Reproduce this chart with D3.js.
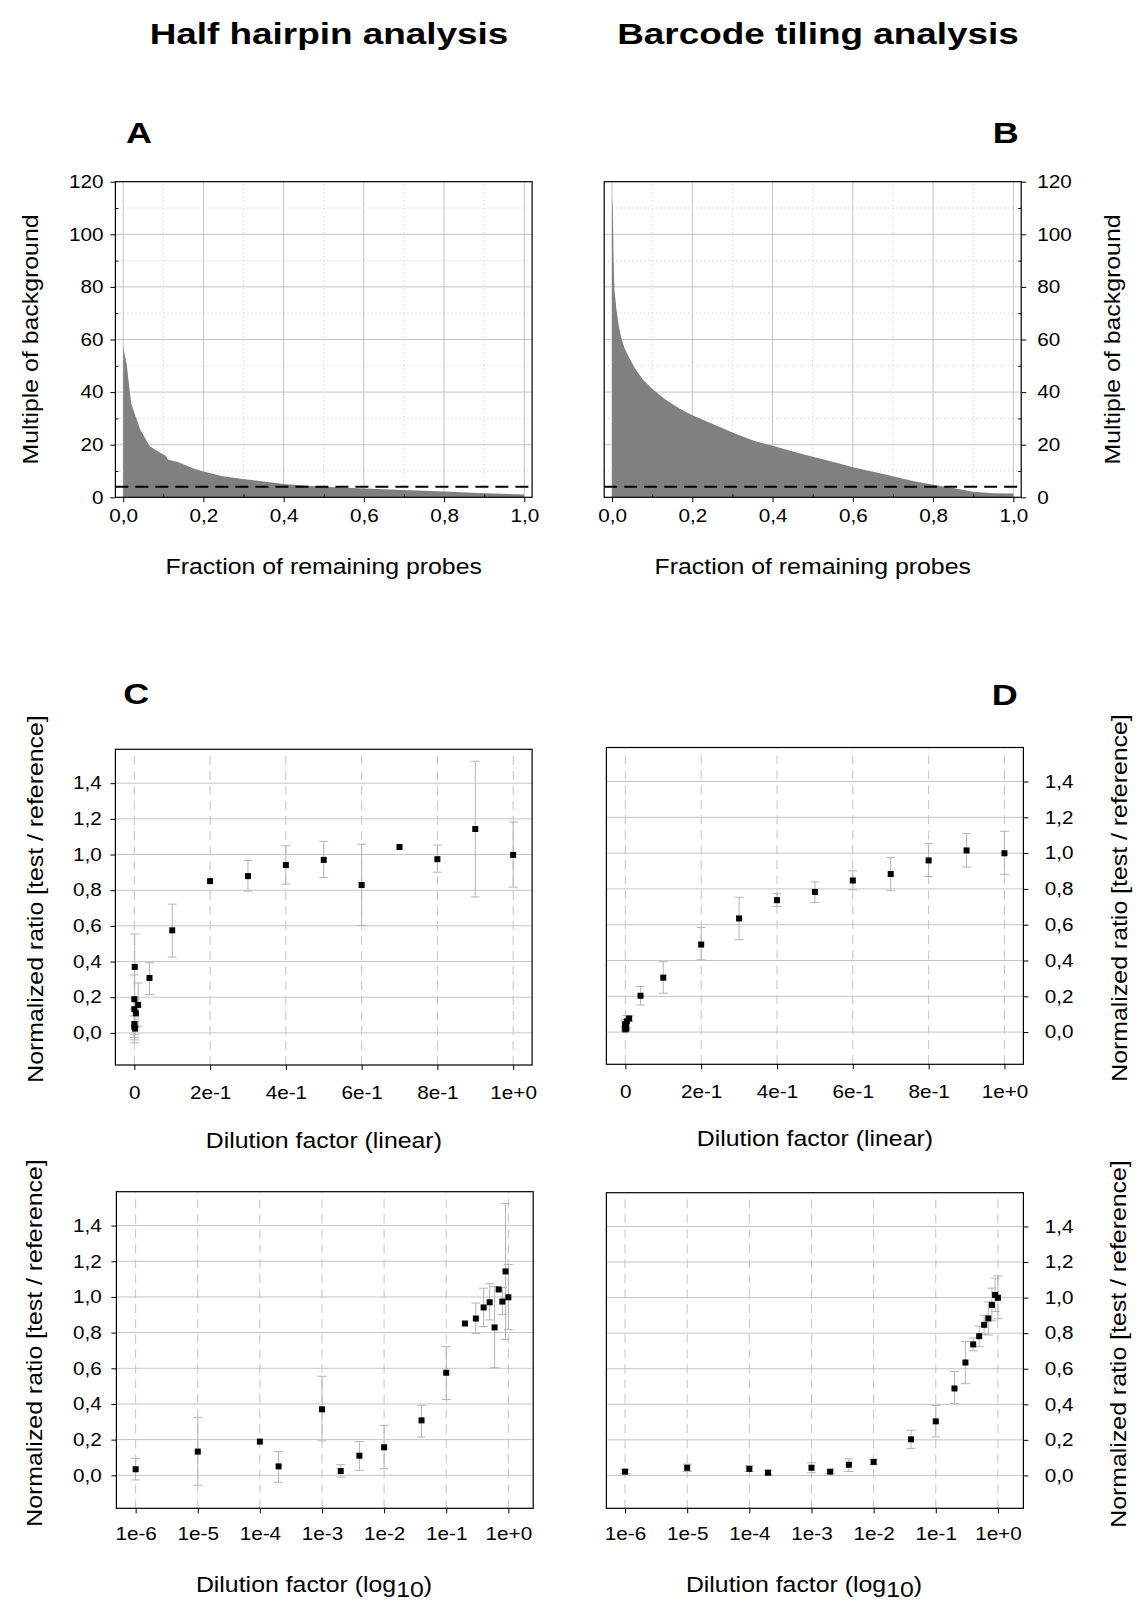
<!DOCTYPE html>
<html><head><meta charset="utf-8">
<script src="https://cdn.jsdelivr.net/npm/d3@7"></script>
<style>
body{margin:0;background:#fff}
svg{display:block}
text{font-family:"Liberation Sans",Arial,sans-serif;fill:#000}
</style>
</head><body>
<svg id="c" width="1147" height="1609"></svg>
<script>
// ---------------- DATA ----------------
const columnTitles = ["Half hairpin analysis", "Barcode tiling analysis"];
const panelLetters = ["A", "B", "C", "D"];

const fractionTicks = [0, 0.2, 0.4, 0.6, 0.8, 1.0];
const fractionTickLabels = ["0,0", "0,2", "0,4", "0,6", "0,8", "1,0"];
const fractionMinorTicks = [0.1, 0.3, 0.5, 0.7, 0.9];
const multipleTicks = [0, 20, 40, 60, 80, 100, 120];
const multipleTickLabels = ["0", "20", "40", "60", "80", "100", "120"];
const multipleMinorTicks = [10, 30, 50, 70, 90, 110];
const thresholdMultiple = 4;

// Panel A: half hairpin, sorted signal curve
const hairpinFraction = [0, 0.0045, 0.009, 0.013, 0.02, 0.031, 0.043, 0.049, 0.062, 0.067, 0.085, 0.107, 0.111, 0.138, 0.174, 0.2, 0.245, 0.298, 0.4, 0.459, 0.5, 0.6, 0.7, 0.8, 0.9, 1.0];
const hairpinMultiple = [57.5, 53.5, 50.3, 44.6, 35.7, 30.7, 25.6, 24.1, 20.5, 19.3, 17.6, 15.7, 14.4, 13.3, 11.0, 9.8, 8.1, 7.0, 5.1, 4.4, 4.05, 3.3, 2.8, 2.2, 1.5, 1.1];

// Panel B: barcode tiling, sorted signal curve
const barcodeFraction = [0, 0.002, 0.004, 0.006, 0.011, 0.017, 0.022, 0.031, 0.045, 0.059, 0.077, 0.1, 0.132, 0.169, 0.2, 0.261, 0.3, 0.353, 0.4, 0.444, 0.5, 0.555, 0.6, 0.656, 0.7, 0.747, 0.8, 0.839, 0.9, 0.95, 1.0];
const barcodeMultiple = [114.3, 109.9, 90.3, 79, 71.4, 65, 61.3, 56.8, 52.4, 48.6, 44.8, 41.3, 37.3, 33.7, 31.2, 27.2, 24.6, 21.5, 19.6, 17.7, 15.4, 13.3, 11.4, 9.5, 8.0, 6.3, 4.8, 3.8, 2.1, 1.5, 1.4];

// Dilution series (panels C, D and log panels)
const dilutions = [1e-6, 1e-5, 1e-4, 2e-4, 1e-3, 2e-3, 4e-3, 1e-2, 4e-2, 1e-1, 2e-1, 3e-1, 4e-1, 5e-1, 6e-1, 7e-1, 8e-1, 9e-1, 1];
const hairpinRatio = [0.034, 0.133, 0.189, 0.050, 0.370, 0.024, 0.110, 0.157, 0.308, 0.575, 0.851, 0.879, 0.941, 0.970, 0.829, 1.042, 0.974, 1.143, 0.998];
const hairpinLow   = [-0.026, -0.056, null, -0.039, 0.193, -0.010, 0.028, 0.037, 0.215, 0.425, null, 0.795, 0.834, 0.871, 0.603, null, 0.901, 0.762, 0.817];
const hairpinHigh  = [0.095, 0.325, null, 0.133, 0.555, 0.060, 0.189, 0.280, 0.393, 0.722, null, 0.966, 1.049, 1.074, 1.058, null, 1.053, 1.523, 1.182];
const barcodeRatio = [0.021, 0.043, 0.037, 0.015, 0.043, 0.021, 0.060, 0.076, 0.203, 0.304, 0.489, 0.635, 0.737, 0.783, 0.847, 0.883, 0.959, 1.015, 0.999];
const barcodeLow   = [0.011, 0.022, 0.022, 0.004, 0.015, 0.011, 0.022, 0.060, 0.151, 0.217, 0.404, 0.516, 0.701, 0.724, 0.795, 0.790, 0.869, 0.922, 0.881];
const barcodeHigh  = [0.034, 0.063, 0.054, 0.030, 0.071, 0.030, 0.093, 0.090, 0.254, 0.393, 0.584, 0.753, 0.773, 0.839, 0.901, 0.975, 1.053, 1.109, 1.122];

const ratioTicks = [0, 0.2, 0.4, 0.6, 0.8, 1.0, 1.2, 1.4];
const ratioTickLabels = ["0,0", "0,2", "0,4", "0,6", "0,8", "1,0", "1,2", "1,4"];
const linearTicks = [0, 0.2, 0.4, 0.6, 0.8, 1.0];
const linearTickLabels = ["0", "2e-1", "4e-1", "6e-1", "8e-1", "1e+0"];
const logTicks = [1e-6, 1e-5, 1e-4, 1e-3, 1e-2, 1e-1, 1];
const logTickLabels = ["1e-6", "1e-5", "1e-4", "1e-3", "1e-2", "1e-1", "1e+0"];

const xLabelFraction = "Fraction of remaining probes";
const yLabelMultiple = "Multiple of background";
const xLabelLinear = "Dilution factor (linear)";
const xLabelLog = ["Dilution factor (log", "10", ")"];
const yLabelRatio = "Normalized ratio [test / reference]";

// ---------------- DRAWING ----------------
const svg = d3.select("#c");
const GRID = "#c4c4c4", ERR = "#b4b4b4";
const TICK_FS = 18, TICK_SX = 1.15, LAB_FS = 22, LAB_SX = 1.13;

function sText(x, y, str, size, sx, o = {}) {
  const t = svg.append("text")
    .attr("transform", `translate(${x},${y})${o.rotate ? " rotate(-90)" : ""} scale(${sx},1)`)
    .attr("font-size", size)
    .attr("text-anchor", o.anchor || "middle");
  if (o.bold) t.attr("font-weight", "bold");
  if (str !== null) t.text(str);
  return t;
}

function styleAxis(g, side) {
  g.select(".domain").remove();
  g.attr("font-size", null).attr("font-family", null);
  g.selectAll("line").attr("stroke", "#000");
  g.selectAll("text").attr("font-size", TICK_FS).attr("fill", "#000").each(function () {
    const t = d3.select(this);
    if (side === "left" || side === "right") {
      const x = +t.attr("x");
      t.attr("x", x / TICK_SX);
    }
    t.attr("transform", `scale(${TICK_SX},1)`);
  });
}

function frame(x, y) {
  const [x0, x1] = x.range(), [y0, y1] = y.range();
  svg.append("rect").attr("x", x0).attr("y", y1).attr("width", x1 - x0).attr("height", y0 - y1)
    .attr("fill", "none").attr("stroke", "#000").attr("stroke-width", 1.2);
}

// ---- Top panels (A, B)
function fractionPanel(o) {
  const x = d3.scaleLinear().domain([-0.0195, 1.0195]).range(o.xr);
  const y = d3.scaleLinear().domain([0, 120]).range([497.3, 181.7]);
  const g = svg.append("g");
  // minor dotted grid
  g.selectAll(".mx").data(fractionMinorTicks).join("line")
    .attr("x1", d => x(d)).attr("x2", d => x(d)).attr("y1", y(0)).attr("y2", y(120))
    .attr("stroke", GRID).attr("stroke-dasharray", "1,3");
  g.selectAll(".my").data(multipleMinorTicks).join("line")
    .attr("x1", o.xr[0]).attr("x2", o.xr[1]).attr("y1", d => y(d)).attr("y2", d => y(d))
    .attr("stroke", GRID).attr("stroke-dasharray", "1,3");
  // major grid
  svg.append("g").selectAll("line").data(fractionTicks).join("line")
    .attr("x1", d => x(d)).attr("x2", d => x(d)).attr("y1", y(0)).attr("y2", y(120))
    .attr("stroke", GRID);
  svg.append("g").selectAll("line").data(multipleTicks.slice(1, -1)).join("line")
    .attr("x1", o.xr[0]).attr("x2", o.xr[1]).attr("y1", d => y(d)).attr("y2", d => y(d))
    .attr("stroke", GRID);
  // area
  const pts = o.fr.map((f, i) => [f, o.mu[i]]);
  svg.append("path").datum(pts)
    .attr("d", d3.area().x(d => x(d[0])).y0(y(0)).y1(d => y(d[1])))
    .attr("fill", "#808080");
  // threshold
  svg.append("line").attr("x1", o.xr[0]).attr("x2", o.xr[1])
    .attr("y1", y(thresholdMultiple)).attr("y2", y(thresholdMultiple))
    .attr("stroke", "#000").attr("stroke-width", 2).attr("stroke-dasharray", "13,7");
  frame(x, y);
  // axes
  const bx = svg.append("g").attr("transform", `translate(0,${y(0)})`)
    .call(d3.axisBottom(x).tickValues(fractionTicks).tickFormat((d, i) => fractionTickLabels[i]).tickSize(5).tickPadding(6.5));
  styleAxis(bx, "bottom");
  const bxm = svg.append("g").attr("transform", `translate(0,${y(0)})`)
    .call(d3.axisBottom(x).tickValues(fractionMinorTicks).tickFormat("").tickSize(-3));
  styleAxis(bxm, "bottom");
  const ax = o.side === "left" ? d3.axisLeft(y) : d3.axisRight(y);
  const yg = svg.append("g").attr("transform", `translate(${o.side === "left" ? o.xr[0] : o.xr[1]},0)`)
    .call(ax.tickValues(multipleTicks).tickFormat((d, i) => multipleTickLabels[i]).tickSize(5).tickPadding(o.side === "left" ? 7 : 11));
  styleAxis(yg, o.side);
  const axm = o.side === "left" ? d3.axisLeft(y) : d3.axisRight(y);
  const ygm = svg.append("g").attr("transform", `translate(${o.side === "left" ? o.xr[0] : o.xr[1]},0)`)
    .call(axm.tickValues(multipleMinorTicks).tickFormat("").tickSize(-3));
  styleAxis(ygm, o.side);
  // labels
  sText((o.xr[0] + o.xr[1]) / 2, 573.5, xLabelFraction, LAB_FS, LAB_SX);
  sText(o.ylx, 339.5, yLabelMultiple, LAB_FS, LAB_SX, { rotate: true });
}

// ---- Ratio panels (C, D, log panels)
function ratioPanel(o) {
  const x = o.log
    ? d3.scaleLog().domain([Math.pow(10, o.xd[0]), Math.pow(10, o.xd[1])]).range(o.xr)
    : d3.scaleLinear().domain(o.xd).range(o.xr);
  const y = d3.scaleLinear().domain(o.yd).range(o.yr);
  const xt = o.log ? logTicks : linearTicks;
  const xl = o.log ? logTickLabels : linearTickLabels;
  // horizontal grid
  svg.append("g").selectAll("line").data(ratioTicks).join("line")
    .attr("x1", o.xr[0]).attr("x2", o.xr[1]).attr("y1", d => y(d)).attr("y2", d => y(d))
    .attr("stroke", GRID);
  // vertical dashed grid
  svg.append("g").selectAll("line").data(xt).join("line")
    .attr("x1", d => x(d)).attr("x2", d => x(d)).attr("y1", o.yr[0]).attr("y2", o.yr[1])
    .attr("stroke", GRID).attr("stroke-dasharray", "9,6");
  // error bars
  const pts = dilutions.map((d, i) => ({ d, v: o.v[i], lo: o.lo[i], hi: o.hi[i] }));
  const eb = svg.append("g").attr("stroke", ERR).attr("stroke-width", 1);
  pts.filter(p => p.lo !== null).forEach(p => {
    const cx = x(p.d);
    eb.append("line").attr("x1", cx).attr("x2", cx).attr("y1", y(p.lo)).attr("y2", y(p.hi));
    eb.append("line").attr("x1", cx - 4.5).attr("x2", cx + 4.5).attr("y1", y(p.lo)).attr("y2", y(p.lo));
    eb.append("line").attr("x1", cx - 4.5).attr("x2", cx + 4.5).attr("y1", y(p.hi)).attr("y2", y(p.hi));
  });
  // points
  svg.append("g").selectAll("rect").data(pts).join("rect")
    .attr("x", p => x(p.d) - 3).attr("y", p => y(p.v) - 3).attr("width", 6).attr("height", 6)
    .attr("fill", "#000");
  frame(x, y);
  const bx = svg.append("g").attr("transform", `translate(0,${o.yr[0]})`)
    .call(d3.axisBottom(x).tickValues(xt).tickFormat((d, i) => xl[i]).tickSize(5).tickPadding(o.xpad));
  styleAxis(bx, "bottom");
  const ax = o.side === "left" ? d3.axisLeft(y) : d3.axisRight(y);
  const yg = svg.append("g").attr("transform", `translate(${o.side === "left" ? o.xr[0] : o.xr[1]},0)`)
    .call(ax.tickValues(ratioTicks).tickFormat((d, i) => ratioTickLabels[i]).tickSize(5).tickPadding(o.ypad));
  styleAxis(yg, o.side);
  // x label
  if (o.log) {
    const t = sText(o.xlx, o.xly, null, LAB_FS, LAB_SX);
    t.append("tspan").text(xLabelLog[0]);
    t.append("tspan").attr("dy", 5).text(xLabelLog[1]);
    t.append("tspan").attr("dy", -5).text(xLabelLog[2]);
  } else {
    sText(o.xlx, o.xly, xLabelLinear, LAB_FS, LAB_SX);
  }
  sText(o.ylx, o.yly, yLabelRatio, LAB_FS, LAB_SX, { rotate: true });
}

// Titles and letters
sText(329, 44.3, columnTitles[0], 30, 1.23, { bold: true });
sText(818, 44.3, columnTitles[1], 30, 1.23, { bold: true });
sText(126, 142.7, panelLetters[0], 30, 1.2, { bold: true, anchor: "start" });
sText(992.7, 142.7, panelLetters[1], 30, 1.2, { bold: true, anchor: "start" });
sText(123.3, 703.5, panelLetters[2], 30, 1.2, { bold: true, anchor: "start" });
sText(991.7, 704.5, panelLetters[3], 30, 1.2, { bold: true, anchor: "start" });

fractionPanel({ xr: [115.4, 532.1], fr: hairpinFraction, mu: hairpinMultiple, side: "left", ylx: 37.5 });
fractionPanel({ xr: [604.2, 1021.2], fr: barcodeFraction, mu: barcodeMultiple, side: "right", ylx: 1120 });

ratioPanel({ log: false, xd: [-0.05, 1.05], xr: [115.4, 532.1], yd: [-0.18, 1.59], yr: [1065, 749.3],
  v: hairpinRatio, lo: hairpinLow, hi: hairpinHigh, side: "left", xpad: 16, ypad: 8.6,
  xlx: 323.8, xly: 1148.3, ylx: 42.7, yly: 899 });
ratioPanel({ log: false, xd: [-0.05, 1.05], xr: [606.4, 1023.4], yd: [-0.18, 1.59], yr: [1064.3, 747.5],
  v: barcodeRatio, lo: barcodeLow, hi: barcodeHigh, side: "right", xpad: 16, ypad: 16.4,
  xlx: 814.9, xly: 1145.5, ylx: 1126.5, yly: 898 });
ratioPanel({ log: true, xd: [-6.31, 0.40], xr: [116.4, 533.2], yd: [-0.185, 1.59], yr: [1508.3, 1191.7],
  v: hairpinRatio, lo: hairpinLow, hi: hairpinHigh, side: "left", xpad: 14, ypad: 9.6,
  xlx: 314, xly: 1591.7, ylx: 41.5, yly: 1343 });
ratioPanel({ log: true, xd: [-6.30, 0.41], xr: [606.4, 1023.4], yd: [-0.185, 1.59], yr: [1508.3, 1192.7],
  v: barcodeRatio, lo: barcodeLow, hi: barcodeHigh, side: "right", xpad: 14, ypad: 16.4,
  xlx: 804, xly: 1591.7, ylx: 1126, yly: 1344 });
</script>
</body></html>
